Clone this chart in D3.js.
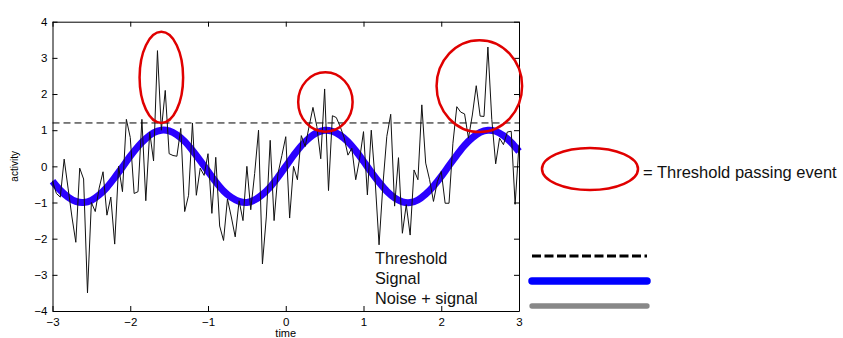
<!DOCTYPE html>
<html>
<head>
<meta charset="utf-8">
<script src="https://cdn.jsdelivr.net/npm/d3@7"></script>
<style>
	body { margin: 0; background: #fff; }
	text { font-family: "Liberation Sans", Arial, Helvetica, sans-serif; }
</style>
</head>
<body>
<div id="my_dataviz"></div>
<script>
// time axis
var timeStart = -3,
	timeEnd = 3,
	noiseStep = 0.05,
	signalStep = 0.1;

var xTicks = [-3, -2, -1, 0, 1, 2, 3];
var yTicks = [-4, -3, -2, -1, 0, 1, 2, 3, 4];

// the clean signal, one value every 0.1 from -3 to 3
var signalValues = [
	-0.41, -0.66, -0.85, -0.97, -1.00, -0.94, -0.79, -0.58, -0.31, -0.02,
	0.28, 0.55, 0.77, 0.93, 1.00, 0.98, 0.87, 0.69, 0.44, 0.16,
	-0.14, -0.43, -0.68, -0.86, -0.97, -1.00, -0.93, -0.78, -0.57, -0.30,
	0.00, 0.30, 0.57, 0.78, 0.93, 1.00, 0.97, 0.86, 0.68, 0.43,
	0.14, -0.16, -0.44, -0.69, -0.87, -0.98, -1.00, -0.93, -0.77, -0.55,
	-0.28, 0.02, 0.31, 0.58, 0.79, 0.94, 1.00, 0.97, 0.85, 0.66,
	0.41
];

// noise + signal, one value every 0.05 from -3 to 3
var noiseValues = [
	-0.40, -0.75, -0.85, 0.20, -0.60, -1.40, -2.10, -0.05, -0.35, -3.50,
	-1.00, -1.25, -0.60, -0.15, -1.35, -0.85, -2.15, 0.00, -0.70, 1.30,
	0.80, -0.75, -0.70, 1.30, -0.95, 0.95, 0.15, 3.20, 1.00, 2.10,
	0.35, 0.30, 0.28, 1.05, -1.25, -0.80, 1.20, -0.80, -0.05, -0.25,
	0.35, -1.30, 0.25, -1.65, -2.05, -0.90, -1.40, -1.95, -0.95, -1.50,
	0.00, -1.20, -0.20, 1.00, -2.70, -1.40, 0.72, -1.50, -0.20, 0.30,
	0.82, -1.43, 0.00, -0.37, 0.85, 0.55, 1.10, 1.63, 1.10, 0.21,
	2.14, -0.67, 1.40, 1.35, 1.10, 0.80, 0.31, 0.50, -0.37, 0.20,
	0.96, -0.79, 1.00, -0.40, -2.17, -0.50, 0.83, 1.44, -1.10, 0.24,
	-1.85, -1.06, -1.90, -0.10, -0.37, 1.70, 0.09, -0.37, -0.97, -0.42,
	-0.14, -1.02, -1.02, 0.64, 1.65, 1.50, 1.45, 0.78, 1.42, 2.23,
	1.39, 1.38, 3.30, 1.30, 0.07, 0.78, 0.60, 0.95, 0.97, -1.05,
	0.60
];

var threshold = 1.2;

// threshold passing events (centre and radii in data units)
var eventTime = [-1.60, 0.51, 2.49];
var eventLevel = [2.46, 1.78, 2.22];
var eventTimeRadius = [0.28, 0.35, 0.55];
var eventLevelRadius = [1.26, 0.82, 1.27];

var legendLabels = ["Threshold", "Signal", "Noise + signal"];

// set the dimensions and margins of the graph
var svgWidth = 843, svgHeight = 338;
var margin = {top: 21.7, left: 52.5};
var width = 466.5, height = 289.3;

var svgRoot = d3.select("#my_dataviz")
	.append("svg")
		.attr("width", svgWidth)
		.attr("height", svgHeight);

var svg = svgRoot.append("g")
	.attr("transform", "translate(" + margin.left + "," + margin.top + ")");

var x = d3.scaleLinear().domain([timeStart, timeEnd]).range([0, width]);
var y = d3.scaleLinear().domain([-4, 4]).range([height, 0]);

var signalData = signalValues.map(function(v, i) {
	return {t: timeStart + i * signalStep, v: v};
});
var noiseData = noiseValues.map(function(v, i) {
	return {t: timeStart + i * noiseStep, v: v};
});

var line = d3.line()
	.x(function(d) { return x(d.t); })
	.y(function(d) { return y(d.v); });

// thick signal line
svg.append("path")
	.datum(signalData)
	.attr("d", line.curve(d3.curveCardinal))
	.attr("fill", "none")
	.attr("stroke", "#2a00ff")
	.attr("stroke-width", 7);

// noisy trace
svg.append("path")
	.datum(noiseData)
	.attr("d", line.curve(d3.curveLinear))
	.attr("fill", "none")
	.attr("stroke", "#111")
	.attr("stroke-width", 1);

// threshold
svg.append("line")
	.attr("x1", x(timeStart))
	.attr("x2", x(timeEnd))
	.attr("y1", y(threshold))
	.attr("y2", y(threshold))
	.attr("stroke", "#000")
	.attr("stroke-width", 1)
	.attr("stroke-dasharray", "7,4");

// axes box with inward ticks
var intFormat = d3.format("d");
svg.append("g")
	.attr("transform", "translate(0," + height + ")")
	.call(d3.axisBottom(x).tickValues(xTicks).tickFormat(intFormat).tickSize(-5).tickSizeOuter(0).tickPadding(7));
svg.append("g")
	.call(d3.axisLeft(y).tickValues(yTicks).tickFormat(intFormat).tickSize(-5).tickSizeOuter(0).tickPadding(5));
svg.append("g")
	.call(d3.axisTop(x).tickValues(xTicks).tickSize(-5).tickSizeOuter(0).tickFormat(""));
svg.append("g")
	.attr("transform", "translate(" + width + ",0)")
	.call(d3.axisRight(y).tickValues(yTicks).tickSize(-5).tickSizeOuter(0).tickFormat(""));

svg.selectAll(".domain, .tick line")
	.attr("stroke", "#000")
	.attr("stroke-width", 1);
svg.selectAll(".tick text")
	.attr("fill", "#000")
	.style("font-size", "11.5px");

// axis titles
svg.append("text")
	.attr("transform", "translate(" + (-35) + "," + y(0) + ")rotate(-90)")
	.attr("text-anchor", "middle")
	.style("font-size", "10px")
	.text("activity");
svg.append("text")
	.attr("x", x(0))
	.attr("y", height + 26)
	.attr("text-anchor", "middle")
	.style("font-size", "11px")
	.text("time");

// threshold passing events
svg.selectAll("myevents")
	.data(eventTime)
	.enter()
	.append("ellipse")
	.attr("cx", function(d) { return x(d); })
	.attr("cy", function(d, i) { return y(eventLevel[i]); })
	.attr("rx", function(d, i) { return x(eventTimeRadius[i]) - x(0); })
	.attr("ry", function(d, i) { return y(0) - y(eventLevelRadius[i]); })
	.attr("fill", "none")
	.attr("stroke", "#e00000")
	.attr("stroke-width", 2.5);

// legend text inside the plot
svg.selectAll("mylabels")
	.data(legendLabels)
	.enter()
	.append("text")
	.attr("x", 322.5)
	.attr("y", function(d, i) { return 242.6 + i * 20; })
	.style("font-size", "16.3px")
	.attr("fill", "#111")
	.text(function(d) { return d; });

// legend keys on the right
var keys = [
	{stroke: "#000", width: 2.8, dash: "9,3.5", cap: "butt"},
	{stroke: "#0000ff", width: 7.5, dash: null, cap: "round"},
	{stroke: "#888888", width: 5.3, dash: null, cap: "round"}
];
svgRoot.selectAll("mykeys")
	.data(keys)
	.enter()
	.append("line")
	.attr("x1", 532)
	.attr("x2", 647)
	.attr("y1", function(d, i) { return 256 + i * 25; })
	.attr("y2", function(d, i) { return 256 + i * 25; })
	.attr("stroke", function(d) { return d.stroke; })
	.attr("stroke-width", function(d) { return d.width; })
	.attr("stroke-dasharray", function(d) { return d.dash; })
	.attr("stroke-linecap", function(d) { return d.cap; });

svgRoot.append("ellipse")
	.attr("cx", 590)
	.attr("cy", 169)
	.attr("rx", 48)
	.attr("ry", 21)
	.attr("fill", "none")
	.attr("stroke", "#e00000")
	.attr("stroke-width", 2.5);
svgRoot.append("text")
	.attr("x", 643)
	.attr("y", 178)
	.style("font-size", "16.5px")
	.attr("fill", "#111")
	.text("= Threshold passing event");
</script>
</body>
</html>
